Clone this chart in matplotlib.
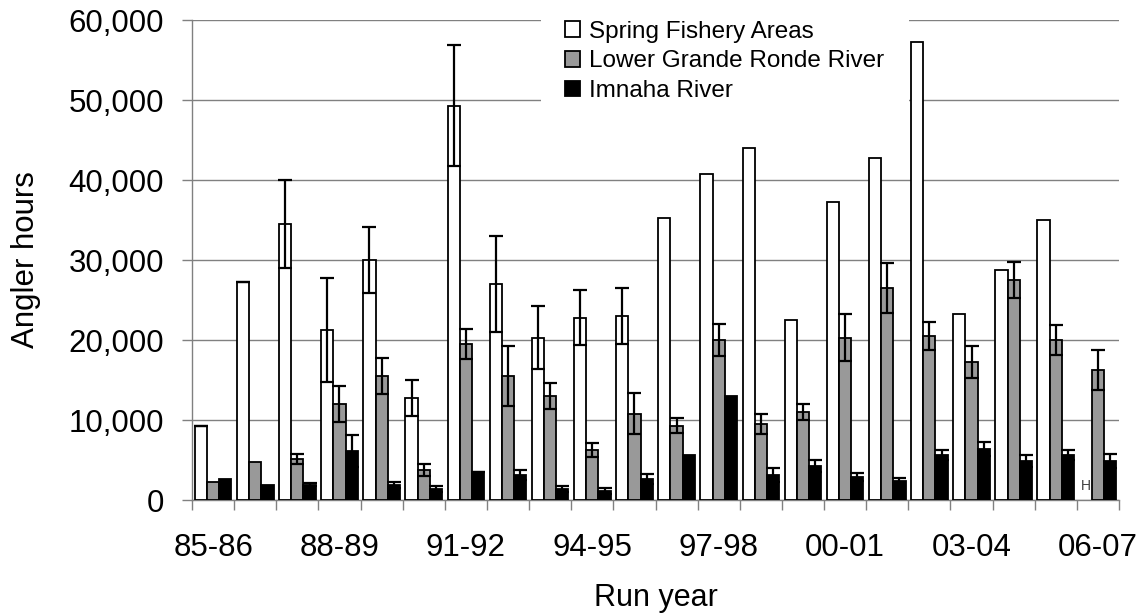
import numpy as np
import matplotlib
matplotlib.use("Agg")
import matplotlib.pyplot as plt
from matplotlib.ticker import FuncFormatter, FixedLocator
from matplotlib.patches import Patch

plt.rcParams['font.family'] = ['Liberation Sans', 'DejaVu Sans']

run_years = ["85-86", "86-87", "87-88", "88-89", "89-90", "90-91", "91-92",
             "92-93", "93-94", "94-95", "95-96", "96-97", "97-98", "98-99",
             "99-00", "00-01", "01-02", "02-03", "03-04", "04-05", "05-06",
             "06-07"]

spring_hours = [9300, 27300, 34500, 21300, 30000, 12800, 49300, 27000, 20300,
                22800, 23000, 35300, 40800, 44000, 22500, 37300, 42800, 57300,
                23300, 28800, 35000, None]
spring_err = [0, 0, 5500, 6500, 4150, 2250, 7600, 6000, 3900, 3400, 3500,
              None, None, None, None, None, None, None, None, None, None, None]

grande_ronde_hours = [2300, 4800, 5100, 12000, 15500, 3750, 19500, 15500,
                      13000, 6300, 10800, 9300, 20000, 9500, 11000, 20300,
                      26500, 20500, 17300, 27500, 20000, 16300]
grande_ronde_err = [None, None, 600, 2250, 2200, 770, 1850, 3800, 1600, 870,
                    2600, 900, 2000, 1250, 1000, 2900, 3100, 1750, 2000, 2250,
                    1850, 2500]

imnaha_hours = [2600, 1850, 1900, 6100, 1850, 1400, 3550, 3100, 1400, 1100,
                2600, 5600, 13000, 3100, 4300, 2900, 2400, 5600, 6400, 4900,
                5600, 4900]
imnaha_err = [None, None, 200, 2000, 400, 400, 0, 650, 400, 400, 650, None,
              None, 900, 750, 500, 400, 650, 900, 750, 650, 900]

series = [
    ("Spring Fishery Areas", spring_hours, spring_err, "white"),
    ("Lower Grande Ronde River", grande_ronde_hours, grande_ronde_err, "#999999"),
    ("Imnaha River", imnaha_hours, imnaha_err, "black"),
]

fig = plt.figure(figsize=(11.43, 6.16), dpi=100)
ax = fig.add_axes([192 / 1143, 1 - 500 / 616, (1119 - 192) / 1143, 480 / 616])

x = np.arange(len(run_years))
width = 0.29
offsets = [-width, 0.0, width]

for (name, vals, errs, color), off in zip(series, offsets):
    v = np.array([np.nan if a is None else a for a in vals], dtype=float)
    e = np.array([np.nan if a is None else a for a in errs], dtype=float)
    ok = ~np.isnan(v)
    ax.bar(x[ok] + off, v[ok], width=width, color=color, edgecolor="black",
           linewidth=1.3, zorder=3)
    has = ok & ~np.isnan(e)
    ax.errorbar(x[has] + off, v[has], yerr=e[has], fmt="none", ecolor="black",
                elinewidth=1.6, capsize=5, capthick=1.6, zorder=4)

# no estimate for the spring fishery in the last run year
ax.text(x[-1] - width, 1700, "H", ha="center", va="center", fontsize=10,
        color="#404040", zorder=5)

ax.set_xlim(-0.5, len(run_years) - 0.5)
ax.set_ylim(0, 60000)
ax.set_yticks(np.arange(0, 60001, 10000))
ax.yaxis.set_major_formatter(FuncFormatter(lambda v, p: f"{int(v):,}"))
ax.grid(axis="y", color="#808080", linewidth=1.0, zorder=0)
ax.set_axisbelow(True)

ax.xaxis.set_major_locator(FixedLocator(np.arange(-0.5, len(run_years), 1.0)))
ax.xaxis.set_major_formatter(FuncFormatter(lambda v, p: ""))
label_pos = list(range(0, len(run_years), 3))
ax.xaxis.set_minor_locator(FixedLocator(label_pos))
ax.xaxis.set_minor_formatter(FuncFormatter(lambda v, p: run_years[int(round(v))]))
ax.tick_params(axis="x", which="major", length=7, width=1.0, color="#808080",
               direction="out")
ax.tick_params(axis="x", which="minor", length=0, pad=24, labelsize=22.5)
ax.tick_params(axis="y", length=7, width=1.0, color="#808080", direction="out",
               pad=13, labelsize=22.5)

for s in ("top", "right"):
    ax.spines[s].set_visible(False)
for s in ("left", "bottom"):
    ax.spines[s].set_color("#808080")
    ax.spines[s].set_linewidth(1.0)

ax.set_xlabel("Run year", fontsize=22, labelpad=14)
ax.set_ylabel("Angler hours", fontsize=22.5, labelpad=20)

handles = [Patch(facecolor=c, edgecolor="black", linewidth=1.3, label=n)
           for n, _, _, c in series]
leg = fig.legend(handles=handles, loc="upper left",
                 bbox_to_anchor=(541 / 1143, 1.006), bbox_transform=fig.transFigure,
                 fontsize=17.5, frameon=True, fancybox=False, edgecolor="none",
                 facecolor="white", framealpha=1.0, borderpad=1.0,
                 labelspacing=0.32, handlelength=0.62, handleheight=0.62,
                 handletextpad=0.37, borderaxespad=0)
leg.set_zorder(10)

fig.savefig("out.png", dpi=100)
